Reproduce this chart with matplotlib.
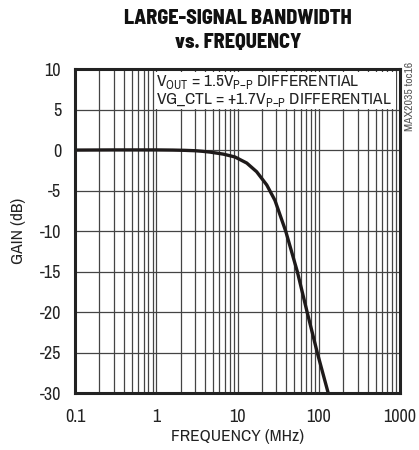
import matplotlib
matplotlib.use("Agg")
import matplotlib.pyplot as plt
from matplotlib.patches import Rectangle

freq_mhz = [0.1, 0.3, 1, 1.6, 2.2, 3.0, 3.7, 4.6, 6.7, 9.3, 13, 17.2, 22.9, 28.9, 39.2, 54.5, 72, 96, 131]
gain_db = [0.0, 0.02, 0.02, 0.0, -0.03, -0.08, -0.15, -0.25, -0.5, -0.85, -1.6, -2.67, -4.3, -6.2, -10.0, -15.0, -20.0, -25.0, -30.0]

x_ticks = [0.1, 1, 10, 100, 1000]
x_tick_labels = ["0.1", "1", "10", "100", "1000"]
y_ticks = [10, 5, 0, -5, -10, -15, -20, -25, -30]

fam = ["Archivo Narrow", "DejaVu Sans"]
plt.rcParams["font.family"] = fam
plt.rcParams["axes.unicode_minus"] = False
plt.rcParams["mathtext.fontset"] = "custom"
plt.rcParams["mathtext.rm"] = fam[0]

fig = plt.figure(figsize=(4.19, 4.5), dpi=100)
ax = fig.add_axes([75/419, 1-393.3/450, 325/419, 324.3/450])

ax.set_xscale("log")
ax.set_xlim(0.1, 1000)
ax.set_ylim(-30, 10)
ax.set_yticks(y_ticks)
ax.set_xticks(x_ticks)
ax.set_xticklabels(x_tick_labels)
ax.grid(True, which="both", axis="x", color="#444444", lw=0.9)
ax.grid(True, which="major", axis="y", color="#444444", lw=0.9)
ax.tick_params(which="both", length=0, labelsize=13, colors="#222222")
ax.tick_params(axis="y", pad=10)
ax.tick_params(axis="x", pad=11)
for s in ax.spines.values():
    s.set_linewidth(2.2)
    s.set_color("#222222")
    s.set_zorder(5)

ax.plot(freq_mhz, gain_db, color="#1e1a1a", lw=2.4, zorder=3, solid_capstyle="butt",
        solid_joinstyle="round")

ax.set_xlabel("FREQUENCY (MHz)", fontsize=12.5, color="#222222", labelpad=3)
ax.set_ylabel("GAIN (dB)", fontsize=12.5, color="#222222", labelpad=10)

def fx(px):
    return (px - 75) / 325
def fy(py):
    return (393.3 - py) / 324.3
ax.add_patch(Rectangle((fx(155), fy(109)), fx(396) - fx(155), fy(72) - fy(109),
                       transform=ax.transAxes, facecolor="white", edgecolor="none", zorder=2.5))
ax.text(fx(156), fy(82), r"V$_\mathregular{OUT}$ = 1.5V$_\mathregular{P{-}P}$ DIFFERENTIAL",
        transform=ax.transAxes, fontsize=12.5, color="#222222", va="center", ha="left", zorder=4)
ax.text(fx(156), fy(100), r"VG_CTL = +1.7V$_\mathregular{P{-}P}$ DIFFERENTIAL",
        transform=ax.transAxes, fontsize=12.5, color="#222222", va="center", ha="left", zorder=4)

tfam = ["Barlow Semi Condensed", "Barlow Condensed", "DejaVu Sans"]
fig.text(238/419, 1-18/450, "LARGE-SIGNAL BANDWIDTH", ha="center", va="center",
         fontsize=14.5, fontweight=800, color="#111111", family=tfam)
fig.text(238/419, 1-42/450, "vs. FREQUENCY", ha="center", va="center",
         fontsize=14.5, fontweight=800, color="#111111", family=tfam)
fig.text(410/419, 1-96/450, "MAX2035 toc16", rotation=90, ha="center", va="center",
         fontsize=8.5, color="#555555")

fig.savefig("out.png", dpi=100)
